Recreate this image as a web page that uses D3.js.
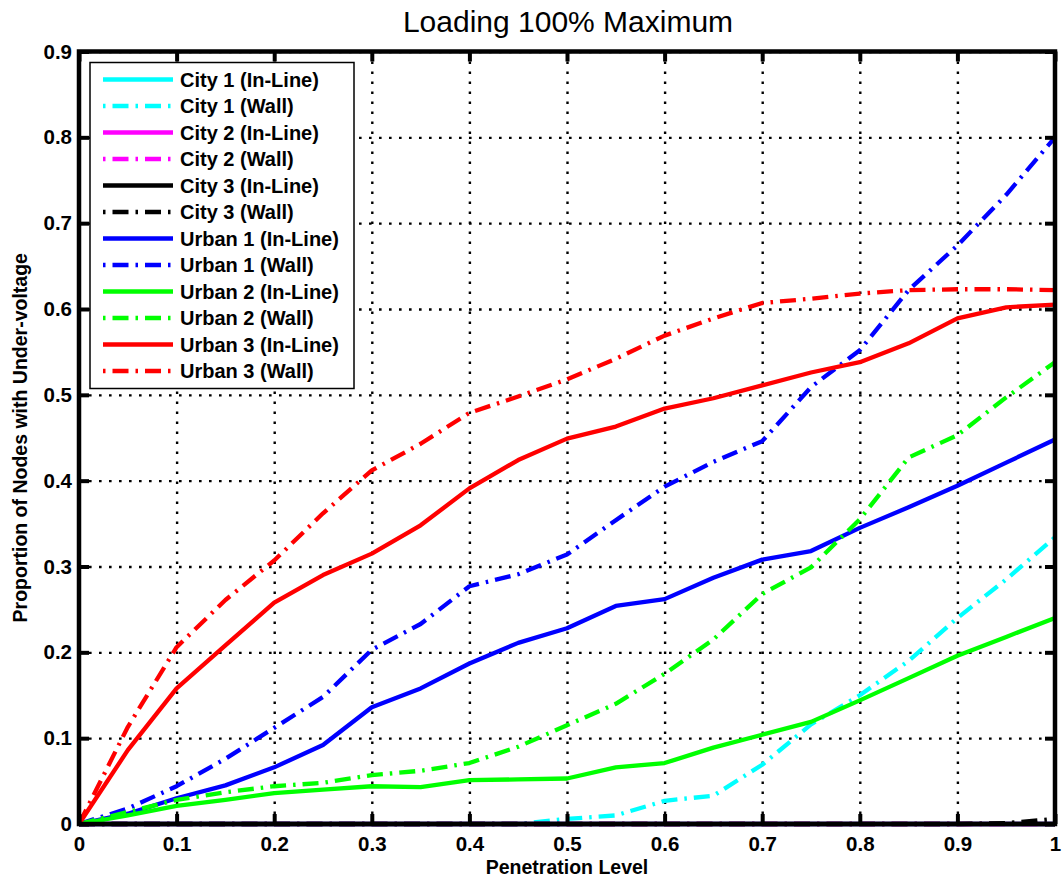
<!DOCTYPE html>
<html lang="en">
<head>
    <meta charset="UTF-8">
    <script src="https://d3js.org/d3.v7.min.js"></script>
    <title>Loading 100% Maximum</title>
    <style>
        body {
            margin: 0;
            background: #fff;
            font-family: "Liberation Sans", Arial, sans-serif;
        }
        svg {
            display: block;
        }
        .tick text {
            font-size: 20.5px;
            font-weight: bold;
            fill: #000;
        }
        .grid line {
            stroke: #000;
            stroke-width: 2.4;
            stroke-dasharray: 2.6, 7.4;
        }
    </style>
</head>
<body>
<div id="chart"></div>
<script>
    // penetration level, 0 to 1 in 0.05 steps
    const penetration = [0, 0.05, 0.1, 0.15, 0.2, 0.25, 0.3, 0.35, 0.4, 0.45, 0.5,
        0.55, 0.6, 0.65, 0.7, 0.75, 0.8, 0.85, 0.9, 0.95, 1];

    const city1InLine = [0, 0, 0, 0, 0, 0, 0, 0, 0, 0, 0, 0, 0, 0, 0, 0, 0, 0, 0, 0, 0];
    const city1Wall = [0, 0, 0, 0, 0, 0, 0, 0, 0, 0, 0.006, 0.010, 0.027, 0.033, 0.069,
        0.116, 0.150, 0.190, 0.240, 0.285, 0.334];
    const city2InLine = [0, 0, 0, 0, 0, 0, 0, 0, 0, 0, 0, 0, 0, 0, 0, 0, 0, 0, 0, 0, 0];
    const city2Wall = [0, 0, 0, 0, 0, 0, 0, 0, 0, 0, 0, 0, 0, 0, 0, 0, 0, 0, 0, 0, 0];
    const city3InLine = [0, 0, 0, 0, 0, 0, 0, 0, 0, 0, 0, 0, 0, 0, 0, 0, 0, 0, 0, 0, 0];
    const city3Wall = [0, 0, 0, 0, 0, 0, 0, 0, 0, 0, 0, 0, 0, 0, 0, 0, 0, 0, 0, 0.001, 0.006];
    const urban1InLine = [0, 0.012, 0.030, 0.045, 0.066, 0.092, 0.136, 0.158, 0.187, 0.211, 0.228,
        0.254, 0.262, 0.287, 0.308, 0.318, 0.345, 0.369, 0.394, 0.421, 0.448];
    const urban1Wall = [0, 0.018, 0.044, 0.076, 0.112, 0.148, 0.203, 0.233, 0.277, 0.291, 0.314,
        0.354, 0.393, 0.422, 0.446, 0.509, 0.552, 0.622, 0.674, 0.733, 0.800];
    const urban2InLine = [0, 0.010, 0.021, 0.028, 0.036, 0.040, 0.044, 0.043, 0.051, 0.052, 0.053,
        0.066, 0.071, 0.089, 0.104, 0.119, 0.144, 0.170, 0.196, 0.218, 0.240];
    const urban2Wall = [0, 0.014, 0.028, 0.037, 0.044, 0.048, 0.057, 0.062, 0.071, 0.090, 0.115,
        0.140, 0.175, 0.215, 0.268, 0.299, 0.355, 0.427, 0.453, 0.497, 0.538];
    const urban3InLine = [0, 0.086, 0.158, 0.208, 0.258, 0.290, 0.315, 0.348, 0.391, 0.424, 0.449,
        0.463, 0.484, 0.496, 0.511, 0.526, 0.538, 0.560, 0.589, 0.602, 0.605];
    const urban3Wall = [0, 0.113, 0.206, 0.261, 0.307, 0.362, 0.412, 0.443, 0.479, 0.498, 0.518,
        0.542, 0.569, 0.589, 0.607, 0.612, 0.618, 0.622, 0.623, 0.623, 0.622];

    const seriesNames = ["City 1 (In-Line)", "City 1 (Wall)", "City 2 (In-Line)", "City 2 (Wall)",
        "City 3 (In-Line)", "City 3 (Wall)", "Urban 1 (In-Line)", "Urban 1 (Wall)",
        "Urban 2 (In-Line)", "Urban 2 (Wall)", "Urban 3 (In-Line)", "Urban 3 (Wall)"];
    const seriesValues = [city1InLine, city1Wall, city2InLine, city2Wall, city3InLine, city3Wall,
        urban1InLine, urban1Wall, urban2InLine, urban2Wall, urban3InLine, urban3Wall];
    const seriesColors = ["#00ffff", "#00ffff", "#ff00ff", "#ff00ff", "#000000", "#000000",
        "#0000ff", "#0000ff", "#00ff00", "#00ff00", "#ff0000", "#ff0000"];

    const xTicks = [0, 0.1, 0.2, 0.3, 0.4, 0.5, 0.6, 0.7, 0.8, 0.9, 1];
    const yTicks = [0, 0.1, 0.2, 0.3, 0.4, 0.5, 0.6, 0.7, 0.8, 0.9];

    const width = 1063, height = 883;
    const plot = { left: 79, right: 1055, top: 51.5, bottom: 824 };
    const dashDot = "16,7,2.5,7";

    const svg = d3.select("#chart").append("svg")
        .attr("width", width)
        .attr("height", height);

    const x = d3.scaleLinear().domain([0, 1]).range([plot.left, plot.right]);
    const y = d3.scaleLinear().domain([0, 0.9]).range([plot.bottom, plot.top]);
    const fmt = d => String(+d.toFixed(1));
    const plotW = plot.right - plot.left, plotH = plot.bottom - plot.top;

    // dotted grid
    svg.append("g")
        .attr("class", "grid")
        .attr("transform", `translate(0,${plot.bottom})`)
        .call(d3.axisBottom(x).tickValues(xTicks).tickSize(-plotH).tickFormat(""))
        .call(g => g.select(".domain").remove());
    svg.append("g")
        .attr("class", "grid")
        .attr("transform", `translate(${plot.left},0)`)
        .call(d3.axisLeft(y).tickValues(yTicks).tickSize(-plotW).tickFormat(""))
        .call(g => g.select(".domain").remove());

    // data lines
    const line = d3.line()
        .x((d, i) => x(penetration[i]))
        .y(d => y(d));

    svg.append("g")
        .selectAll("path")
        .data(seriesValues)
        .join("path")
        .attr("d", line)
        .attr("fill", "none")
        .attr("stroke", (d, i) => seriesColors[i])
        .attr("stroke-width", 4.3)
        .attr("stroke-linejoin", "round")
        .attr("stroke-dasharray", (d, i) => i % 2 === 1 ? dashDot : null);

    // axes with inward ticks on all four sides
    const styleTicks = g => {
        g.select(".domain").remove();
        g.selectAll(".tick line").attr("stroke", "#000").attr("stroke-width", 4);
    };
    svg.append("g")
        .attr("transform", `translate(0,${plot.bottom})`)
        .call(d3.axisBottom(x).tickValues(xTicks).tickSize(-10).tickPadding(12).tickFormat(fmt))
        .call(styleTicks);
    svg.append("g")
        .attr("transform", `translate(0,${plot.top})`)
        .call(d3.axisTop(x).tickValues(xTicks).tickSize(-10).tickFormat(""))
        .call(styleTicks);
    svg.append("g")
        .attr("transform", `translate(${plot.left},0)`)
        .call(d3.axisLeft(y).tickValues(yTicks).tickSize(-10).tickPadding(7).tickFormat(fmt))
        .call(styleTicks);
    svg.append("g")
        .attr("transform", `translate(${plot.right},0)`)
        .call(d3.axisRight(y).tickValues(yTicks).tickSize(-10).tickFormat(""))
        .call(styleTicks);

    svg.selectAll(".tick text").attr("font-family", "'Liberation Sans', Arial, sans-serif");

    // frame
    svg.append("rect")
        .attr("x", plot.left)
        .attr("y", plot.top)
        .attr("width", plotW)
        .attr("height", plotH)
        .attr("fill", "none")
        .attr("stroke", "#000")
        .attr("stroke-width", 4.5);

    // legend
    const legend = svg.append("g");
    legend.append("rect")
        .attr("x", 90)
        .attr("y", 62.5)
        .attr("width", 264)
        .attr("height", 326)
        .attr("fill", "#fff")
        .attr("stroke", "#000")
        .attr("stroke-width", 1.5);

    const rows = legend.selectAll("g.row")
        .data(seriesNames)
        .join("g")
        .attr("class", "row")
        .attr("transform", (d, i) => `translate(0,${79.5 + i * 26.5})`);
    rows.append("line")
        .attr("x1", 103)
        .attr("x2", 173)
        .attr("stroke", (d, i) => seriesColors[i])
        .attr("stroke-width", 4.3)
        .attr("stroke-dasharray", (d, i) => i % 2 === 1 ? dashDot : null)
        .attr("stroke-dashoffset", (d, i) => i % 2 === 1 ? 23 : null);
    rows.append("text")
        .attr("x", 180)
        .attr("y", 7.4)
        .attr("font-size", 20)
        .attr("font-weight", "bold")
        .text(d => d);

    // titles
    svg.append("text")
        .attr("x", 568)
        .attr("y", 32)
        .attr("text-anchor", "middle")
        .attr("font-size", 30)
        .text("Loading 100% Maximum");
    svg.append("text")
        .attr("x", 567)
        .attr("y", 874)
        .attr("text-anchor", "middle")
        .attr("font-size", 19.5)
        .attr("font-weight", "bold")
        .text("Penetration Level");
    svg.append("text")
        .attr("transform", `translate(27,${(plot.top + plot.bottom) / 2}) rotate(-90)`)
        .attr("text-anchor", "middle")
        .attr("font-size", 19.5)
        .attr("font-weight", "bold")
        .text("Proportion of Nodes with Under-voltage");
</script>
</body>
</html>
